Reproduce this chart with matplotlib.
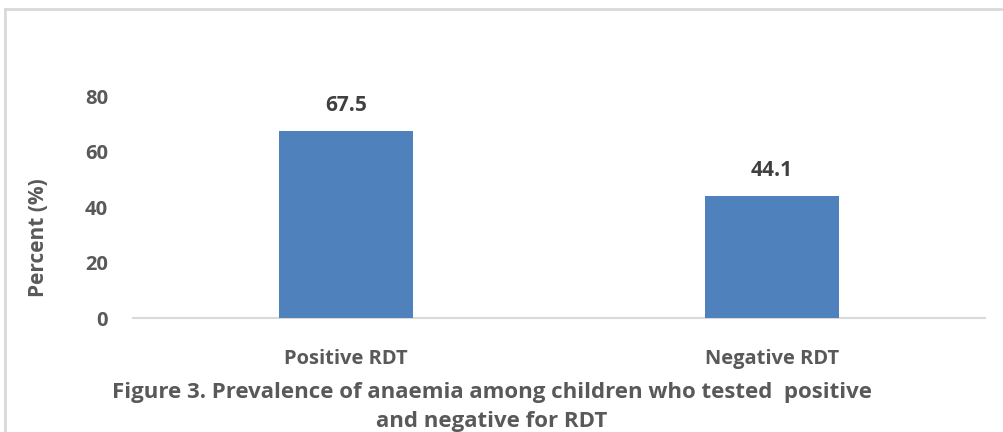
import matplotlib
matplotlib.use("Agg")
import matplotlib.pyplot as plt
from matplotlib.lines import Line2D

# chart data
categories = ['Positive RDT', 'Negative RDT']
percent = [67.5, 44.1]
y_ticks = [0, 20, 40, 60, 80]

title = ('Figure 3. Prevalence of anaemia among children who tested  positive\n'
         'and negative for RDT')

plt.rcParams['font.family'] = ['Open Sans', 'DejaVu Sans']
plt.rcParams['font.weight'] = 'bold'

text_grey = '#595959'
bar_blue = '#4F81BD'

fig = plt.figure(figsize=(10.04, 4.32), dpi=100)
ax = fig.add_axes([133 / 1004, 114 / 432, 852 / 1004, 277 / 432])

x = list(range(len(categories)))
bars = ax.bar(x, percent, width=0.315, color=bar_blue, zorder=3)

# value labels above the bars
for b, v in zip(bars, percent):
    ax.annotate(f'{v}', (b.get_x() + b.get_width() / 2, v),
                xytext=(0, 11), textcoords='offset points',
                ha='center', va='bottom', fontsize=15, fontweight='bold',
                color='#404040')

ax.set_xlim(-0.5, 1.5)
ax.set_ylim(0, 100)
ax.set_yticks(y_ticks)
ax.set_xticks(x)
ax.set_xticklabels(categories)

for s in ['top', 'right', 'left']:
    ax.spines[s].set_visible(False)
ax.spines['bottom'].set_color('#d9d9d9')
ax.spines['bottom'].set_linewidth(1.5)

ax.tick_params(axis='both', length=0, labelsize=14.5, colors=text_grey)
ax.tick_params(axis='y', pad=18)
ax.tick_params(axis='x', pad=22)
for lbl in ax.get_xticklabels() + ax.get_yticklabels():
    lbl.set_fontweight('bold')

fig.text(38 / 1004, 1 - 238 / 432, 'Percent (%)', rotation=90,
         ha='center', va='center', fontsize=15, fontweight='bold',
         color=text_grey)

fig.text(492 / 1004, 1 - 407 / 432, title, ha='center', va='center',
         fontsize=16, fontweight='bold', color=text_grey, linespacing=1.45)

# light grey frame (left and top edges)
frame = '#d9d9d9'
fig.add_artist(Line2D([5 / 1004, 5 / 1004], [0, 1 - 9 / 432],
                      transform=fig.transFigure, color=frame, lw=2))
fig.add_artist(Line2D([5 / 1004, 1], [1 - 9 / 432, 1 - 9 / 432],
                      transform=fig.transFigure, color=frame, lw=2))

fig.savefig('out.png', dpi=100)
